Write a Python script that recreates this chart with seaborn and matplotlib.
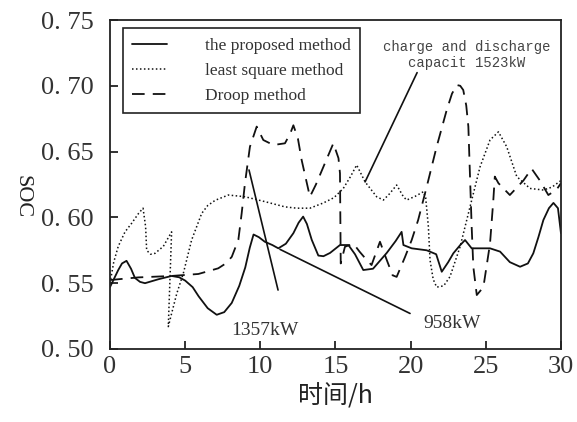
import numpy as np
import pandas as pd
import matplotlib
matplotlib.use("Agg")
import matplotlib.pyplot as plt
import seaborn as sns

# ---------------- data ----------------
proposed_x = [0, 0.55, 0.8, 1.1, 1.4, 1.66, 2.0, 2.33, 3.22, 4.1, 4.6, 5.0, 5.5, 5.9, 6.5, 7.1,
              7.6, 8.1, 8.6, 9.0, 9.3, 9.55, 9.9, 10.3, 10.8, 11.2, 11.7, 12.2, 12.55, 12.85,
              13.1, 13.42, 13.86, 14.2, 14.64, 15.3, 15.86, 16.3, 16.85, 17.5, 18.41, 19.0, 19.4,
              19.52, 20.07, 21.07, 21.7, 22.07, 22.5, 22.84, 23.3, 23.62, 24.06, 25.28, 25.95,
              26.6, 27.28, 27.8, 28.16, 28.5, 28.83, 29.2, 29.5, 29.8, 30.0]
proposed_y = [0.547, 0.560, 0.565, 0.567, 0.561, 0.554, 0.551, 0.550, 0.553, 0.5555, 0.5545,
              0.552, 0.547, 0.540, 0.531, 0.526, 0.528, 0.535, 0.548, 0.562, 0.577, 0.587, 0.585,
              0.5815, 0.579, 0.5765, 0.580, 0.588, 0.596, 0.6006, 0.595, 0.583, 0.571, 0.5705,
              0.573, 0.579, 0.579, 0.572, 0.560, 0.561, 0.573, 0.582, 0.589, 0.579, 0.5765, 0.575,
              0.572, 0.5587, 0.566, 0.5727, 0.579, 0.5828, 0.5765, 0.5765, 0.574, 0.566, 0.5625,
              0.565, 0.5727, 0.585, 0.598, 0.607, 0.611, 0.607, 0.588]

lsq_x = [0, 0.25, 0.55, 1.0, 1.44, 1.9, 2.2, 2.37, 2.44, 2.7, 3.0, 3.55, 4.1, 3.88, 4.1, 4.44,
         4.88, 5.43, 6.1, 6.5, 7.0, 7.87, 8.98, 10.3, 11.64, 12.42, 13.3, 14.2, 14.9, 15.52,
         16.0, 16.41, 16.97, 17.74, 18.19, 18.6, 19.07, 19.52, 19.74, 20.3, 20.85, 21.0, 21.18,
         21.29, 21.5, 21.73, 22.2, 22.62, 23.29, 23.95, 24.62, 25.28, 25.84, 26.39, 27.06,
         27.94, 28.83, 29.4, 30.0]
lsq_y = [0.550, 0.566, 0.578, 0.589, 0.5955, 0.603, 0.607, 0.593, 0.575, 0.572, 0.5727, 0.578,
         0.589, 0.517, 0.527, 0.542, 0.5575, 0.5828, 0.603, 0.609, 0.613, 0.617, 0.6157, 0.612,
         0.608, 0.607, 0.607, 0.611, 0.615, 0.622, 0.631, 0.6398, 0.627, 0.6157, 0.6132, 0.618,
         0.6246, 0.6157, 0.6132, 0.616, 0.6195, 0.615, 0.593, 0.5676, 0.553, 0.547, 0.548,
         0.555, 0.5777, 0.608, 0.6385, 0.6588, 0.665, 0.6537, 0.631, 0.622, 0.6208, 0.623, 0.628]

droop_x = [0, 1.88, 4.1, 5.88, 7.2, 7.7, 8.1, 8.54, 8.76, 8.98, 9.31, 9.76, 10.2, 10.87, 11.64,
           12.0, 12.2, 12.5, 12.75, 13.3, 13.7, 14.2, 14.86, 15.2, 15.3, 15.35, 15.63, 16.2, 16.6,
           17.08, 17.4, 17.96, 18.4, 18.8, 19.07, 19.63, 20.07, 20.5, 21.07, 21.73, 22.4, 22.75,
           23.07, 23.3, 23.5, 23.7, 23.84, 23.95, 24.06, 24.17, 24.4, 24.84, 25.28, 25.5, 25.6,
           25.84, 26.6, 27.5, 28.05, 28.6, 29.16, 29.7, 30.0]
droop_y = [0.5524, 0.5544, 0.5555, 0.557, 0.5613, 0.565, 0.570, 0.583, 0.603, 0.626, 0.6537,
           0.669, 0.6588, 0.655, 0.6563, 0.664, 0.670, 0.660, 0.6436, 0.6157, 0.625, 0.6385,
           0.6563, 0.645, 0.6335, 0.5650, 0.5777, 0.580, 0.574, 0.5676, 0.5638, 0.5815, 0.568,
           0.556, 0.5548, 0.570, 0.5828, 0.598, 0.6233, 0.6537, 0.6816, 0.694, 0.7006, 0.700,
           0.6968, 0.685, 0.669, 0.631, 0.593, 0.5625, 0.541, 0.547, 0.580, 0.613, 0.631, 0.626,
           0.617, 0.628, 0.637, 0.628, 0.617, 0.621, 0.626]

series_names = ["the proposed method", "least square method", "Droop method"]
x_ticks = [0, 5, 10, 15, 20, 25, 30]
y_ticks = [0.50, 0.55, 0.60, 0.65, 0.70, 0.75]
y_tick_labels = ["0. 50", "0. 55", "0. 60", "0. 65", "0. 70", "0. 75"]
x_label = "时间/h"
y_label = "SOC"

# ---------------- style ----------------
sns.set_theme(style="ticks")
plt.rcParams["font.family"] = ["Liberation Serif", "DejaVu Serif"]
plt.rcParams["axes.edgecolor"] = "#222222"
plt.rcParams["axes.linewidth"] = 1.3

fig = plt.figure(figsize=(5.77, 4.22), dpi=100)
ax = fig.add_axes([0.1906, 0.173, 0.7816, 0.7796])

styles = {
    series_names[0]: dict(linestyle="-", linewidth=1.3),
    series_names[1]: dict(linestyle=(0, (1.0, 1.6)), linewidth=1.1),
    series_names[2]: dict(linestyle=(0, (7.0, 4.5)), linewidth=1.3),
}
data = [(proposed_x, proposed_y), (lsq_x, lsq_y), (droop_x, droop_y)]
for name, (xs, ys) in zip(series_names, data):
    df = pd.DataFrame({"t": xs, "soc": ys})
    sns.lineplot(data=df, x="t", y="soc", sort=False, estimator=None, color="#111111",
                 label=name, ax=ax, **styles[name])

ax.set_xlim(0, 30)
ax.set_ylim(0.50, 0.75)
ax.set_xticks(x_ticks)
ax.set_xticklabels([str(v) for v in x_ticks])
ax.set_yticks(y_ticks)
ax.set_yticklabels(y_tick_labels)
ax.tick_params(axis="both", direction="in", length=6, width=1.3, colors="#222222",
               labelsize=19, labelcolor="#333333")
ax.tick_params(axis="y", pad=12)
ax.tick_params(axis="x", pad=5)
for s in ax.spines.values():
    s.set_visible(True)
    s.set_color("#222222")

ax.set_xlabel(x_label, fontsize=18, color="#222222",
              family=["Noto Sans CJK SC", "DejaVu Sans"], labelpad=4)
ax.set_ylabel(y_label, fontsize=16, color="#222222", rotation=270, va="center", ha="center")
ax.yaxis.set_label_coords(-0.195, 0.462)

# legend
leg = ax.legend(loc="upper left", bbox_to_anchor=(0.028, 0.975), borderaxespad=0,
                frameon=True, fancybox=False, edgecolor="#222222", framealpha=1,
                prop={"family": "Liberation Serif", "size": 12.5}, handlelength=2.0,
                handletextpad=2.2, borderpad=0.55, labelspacing=0.5)
leg.get_frame().set_linewidth(1.2)
for t in leg.get_texts():
    t.set_color("#333333")

# annotations
ax.annotate("", xy=(11.18, 0.5448), xytext=(9.25, 0.636),
            arrowprops=dict(arrowstyle="-", color="#111111", lw=1.2, shrinkA=0, shrinkB=0))
ax.text(10.31, 0.5144, "1357kW", ha="center", va="center", fontsize=14, color="#333333")

ax.annotate("", xy=(19.96, 0.527), xytext=(11.31, 0.5757),
            arrowprops=dict(arrowstyle="-", color="#111111", lw=1.2, shrinkA=0, shrinkB=0))
ax.text(22.75, 0.5197, "958kW", ha="center", va="center", fontsize=14, color="#333333")

ax.annotate("", xy=(20.43, 0.710), xytext=(16.97, 0.627),
            arrowprops=dict(arrowstyle="-", color="#111111", lw=1.2, shrinkA=0, shrinkB=0))
ax.text(23.72, 0.7234, "charge and discharge\ncapacit 1523kW", ha="center", va="center",
        fontsize=10, color="#444444", family="Liberation Mono", linespacing=1.25)

fig.savefig("out.png", dpi=100)
